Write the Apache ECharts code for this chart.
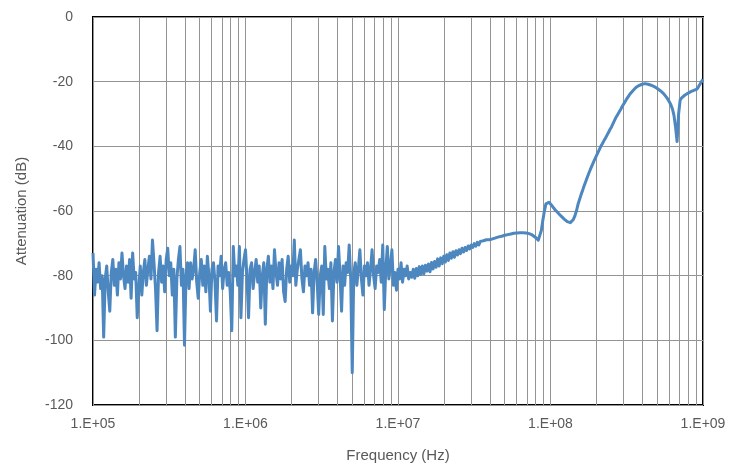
<!DOCTYPE html>
<html>
<head>
<meta charset="utf-8">
<script src="https://cdn.jsdelivr.net/npm/echarts@6/dist/echarts.min.js"></script>
<style>html,body{margin:0;padding:0;background:#fff}#c{width:736px;height:469px}</style>
</head>
<body>
<div id="c"></div>
<script>
// Sweep: log-spaced measurement grid, 1e5 Hz .. 1e9 Hz, 100 points per decade
const sweepStartExp = 5;
const sweepPointsPerDecade = 100;

// Attenuation (dB), one value per sweep point
const attenuationDb = [
  -73, -86, -78, -82, -76, -84, -80, -99, -81, -77,
  -85, -91, -79, -75, -83, -78, -86, -76, -81, -73,
  -80, -84, -77, -82, -75, -87, -73, -81, -79, -93,
  -84, -77, -86, -79, -75, -83, -78, -74, -81, -69,
  -76, -84, -97, -79, -74, -82, -77, -85, -75, -71.5,
  -80, -76, -86, -78, -99, -81, -75, -71, -83, -78,
  -101.5, -80, -76, -84, -76, -81, -78, -72, -82, -87,
  -79, -75, -83, -77, -85, -74, -80, -91, -78, -76,
  -82, -94, -77, -80, -74, -84, -78, -76, -83, -79,
  -85, -97, -71, -80, -77, -83, -71, -93, -79, -75,
  -72, -81, -93, -78, -76, -84, -79, -75, -82, -77,
  -90, -80, -76, -95, -78, -74, -82, -77, -84, -72,
  -79, -83, -76, -81, -75, -85, -88, -78, -74, -82,
  -77, -80, -69, -83, -78, -75, -72, -81, -85, -77,
  -80, -76, -83, -78, -91.5, -79, -75, -82, -92, -80,
  -77, -92, -71, -81, -78, -84, -76, -94, -79, -75,
  -82, -71, -80, -91, -77, -83, -76, -79, -70.5, -81,
  -110, -79, -76, -83, -78, -72, -81, -86, -77, -80,
  -76, -83, -78, -72, -80, -84, -77, -79, -75, -82,
  -70.5, -90.5, -78, -71, -81, -77, -72, -83, -79, -84.5,
  -78, -81, -76, -82, -78, -80, -77, -81, -79, -80.5,
  -78, -80.8, -77.8, -80, -77.2, -79.6, -77, -79.4, -76.8, -78.6,
  -76.4, -78.8, -75.9, -77.9, -75.6, -77.4, -74.8, -77, -74.5, -76.3,
  -74, -75.8, -73.5, -75.3, -73, -74.6, -72.6, -74.3, -72.3, -73.6,
  -72, -73.2, -71.5, -72.7, -71.3, -72.2, -70.8, -71.7, -70.5, -71.3,
  -70.1, -70.9, -69.7, -70.5, -69.4, -70, -69.2, -69.7, -68.9, -69.3,
  -68.9, -68.5, -68.6, -68.2, -68.3, -67.9, -68, -67.7, -67.8, -67.4,
  -67.5, -67.2, -67.3, -67, -67.1, -66.8, -66.9, -66.7, -66.8, -66.6,
  -66.7, -66.6, -66.7, -66.6, -66.8, -66.7, -67, -67.1, -67.4, -67.7,
  -68.1, -68.6, -69, -68.4, -66, -62.8, -60, -57.8, -57.2, -57.3,
  -57.8, -58.4, -59, -59.6, -60.1, -60.6, -61.1, -61.6, -62, -62.5,
  -62.9, -63.3, -63.5, -63.6, -63.3, -62.6, -61.5, -60, -58, -56.5,
  -55, -53.7, -52.3, -51, -49.7, -48.5, -47.3, -46.2, -45.1, -44,
  -43, -42, -41, -40, -39.2, -38.3, -37.5, -36.6, -35.7, -34.8,
  -34, -33, -32, -31, -30.2, -29.4, -28.6, -27.7, -26.9, -26.1,
  -25.3, -24.6, -23.9, -23.3, -22.8, -22.3, -21.8, -21.5, -21.2, -20.9,
  -20.8, -20.7, -20.6, -20.7, -20.8, -20.9, -21.1, -21.3, -21.5, -21.8,
  -22.1, -22.4, -22.8, -23.2, -23.6, -24.1, -24.8, -25.5, -26.3, -27.2,
  -28.5, -30.5, -34, -38.5, -30, -25.7, -25, -24.7, -24.2, -23.9,
  -23.6, -23.3, -23.1, -22.9, -22.7, -22.5, -22.3, -21.6, -21.3, -20,
  -19.3
];

// Axis settings / tick labels
const xMin = 1e5, xMax = 1e9;
const yMin = -120, yMax = 0, yStep = 20;
const minorGridHz = [];
for (let d = 5; d < 9; d++) for (let m = 2; m <= 9; m++) minorGridHz.push(m * Math.pow(10, d));

const seriesData = attenuationDb.map((v, i) => [Math.pow(10, sweepStartExp + i / sweepPointsPerDecade), v]);

const fontFam = '"Liberation Sans", Arial, sans-serif';
const chart = echarts.init(document.getElementById('c'), null, {renderer: 'canvas'});
chart.setOption({
  animation: false,
  backgroundColor: '#ffffff',
  grid: {left: 93, right: 33, top: 17, bottom: 64, show: true, borderColor: '#000', borderWidth: 2, backgroundColor: 'transparent', containLabel: false},
  xAxis: {
    type: 'log', logBase: 10, min: xMin, max: xMax,
    name: 'Frequency (Hz)', nameLocation: 'middle', nameGap: 43,
    nameTextStyle: {color: '#595959', fontSize: 15, fontFamily: fontFam},
    axisLine: {show: false}, axisTick: {show: false},
    axisLabel: {color: '#595959', fontSize: 14, fontFamily: fontFam, margin: 12,
      formatter: v => '1.E+' + String(Math.round(Math.log10(v))).padStart(2, '0')},
    splitLine: {show: true, lineStyle: {color: '#949494', width: 1}}
  },
  yAxis: {
    type: 'value', min: yMin, max: yMax, interval: yStep,
    name: 'Attenuation (dB)', nameLocation: 'middle', nameGap: 64, nameRotate: 90,
    nameTextStyle: {color: '#595959', fontSize: 15, fontFamily: fontFam},
    axisLine: {show: false}, axisTick: {show: false},
    axisLabel: {color: '#595959', fontSize: 14, fontFamily: fontFam, margin: 20},
    splitLine: {show: true, lineStyle: {color: '#949494', width: 1}}
  },
  series: [{
    type: 'line', data: seriesData, showSymbol: false, symbol: 'none',
    lineStyle: {color: '#4d87bf', width: 3, join: 'round'}, z: 5,
    markLine: {
      silent: true, symbol: ['none', 'none'], label: {show: false}, animation: false,
      lineStyle: {color: '#949494', width: 1, type: 'solid'},
      emphasis: {disabled: true},
      z: 1,
      data: minorGridHz.map(f => ({xAxis: f}))
    }
  }]
});
</script>
</body>
</html>
